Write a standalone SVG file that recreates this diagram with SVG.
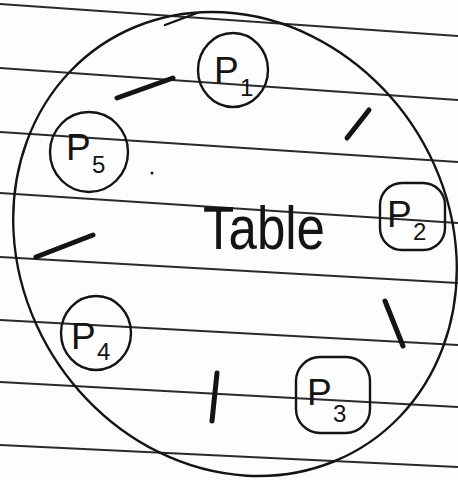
<svg xmlns="http://www.w3.org/2000/svg" width="458" height="480" viewBox="0 0 458 480">
<style>
.rule{stroke:#2a2a2a;stroke-width:1.8;fill:none}
.ink{stroke:#141414;stroke-width:2.4;fill:none;stroke-linecap:round;stroke-linejoin:round}
.stick{stroke:#141414;stroke-width:5;fill:none;stroke-linecap:round}
.lbl{font-family:"Liberation Sans",Arial,sans-serif;font-size:37px;fill:#141414}
.sub{font-size:24px}
.title{font-family:"Liberation Sans",Arial,sans-serif;font-size:62px;fill:#141414}
</style>
<rect width="458" height="480" fill="#fdfdfd"/>
<g id="paper-lines">
<line class="rule" x1="0" y1="4" x2="458" y2="36"/>
<line class="rule" x1="0" y1="68" x2="458" y2="100"/>
<line class="rule" x1="0" y1="132" x2="458" y2="162"/>
<line class="rule" x1="0" y1="193" x2="458" y2="223"/>
<line class="rule" x1="0" y1="257" x2="458" y2="283"/>
<line class="rule" x1="0" y1="320" x2="458" y2="345"/>
<line class="rule" x1="0" y1="382" x2="458" y2="407"/>
<line class="rule" x1="0" y1="445" x2="458" y2="467"/>
</g>
<g id="table">
<ellipse class="ink" cx="0" cy="0" rx="238" ry="214" transform="translate(235,244) scale(0.98,1.025) rotate(45)"/>
<path class="ink" d="M165 25 L197 13"/>
<text class="title" x="203" y="249" textLength="122" lengthAdjust="spacingAndGlyphs">Table</text>
<circle cx="152" cy="173" r="1.5" fill="#141414"/>
</g>
<g id="P1">
<ellipse class="ink" cx="233" cy="70" rx="35" ry="37"/>
<text class="lbl" x="214" y="83">P<tspan class="sub" x="240" y="96">1</tspan></text>
</g>
<g id="P2">
<rect class="ink" x="380" y="183" width="65" height="67" rx="22"/>
<text class="lbl" x="387" y="227">P<tspan class="sub" x="413" y="240">2</tspan></text>
</g>
<g id="P3">
<rect class="ink" x="296" y="357" width="74" height="76" rx="24"/>
<text class="lbl" x="307" y="405">P<tspan class="sub" x="333" y="422">3</tspan></text>
</g>
<g id="P4">
<ellipse class="ink" cx="96" cy="333" rx="35" ry="37"/>
<text class="lbl" x="71" y="349">P<tspan class="sub" x="97" y="360">4</tspan></text>
</g>
<g id="P5">
<ellipse class="ink" cx="89" cy="152" rx="39" ry="40"/>
<text class="lbl" x="66" y="160">P<tspan class="sub" x="92" y="173">5</tspan></text>
</g>
<g id="chopsticks">
<line class="stick" x1="117" y1="98" x2="173" y2="78"/>
<line class="stick" x1="347" y1="138" x2="369" y2="110"/>
<line class="stick" x1="385" y1="301" x2="403" y2="346"/>
<line class="stick" x1="217" y1="373" x2="212" y2="421"/>
<line class="stick" x1="36" y1="257" x2="93" y2="235"/>
</g>
</svg>
